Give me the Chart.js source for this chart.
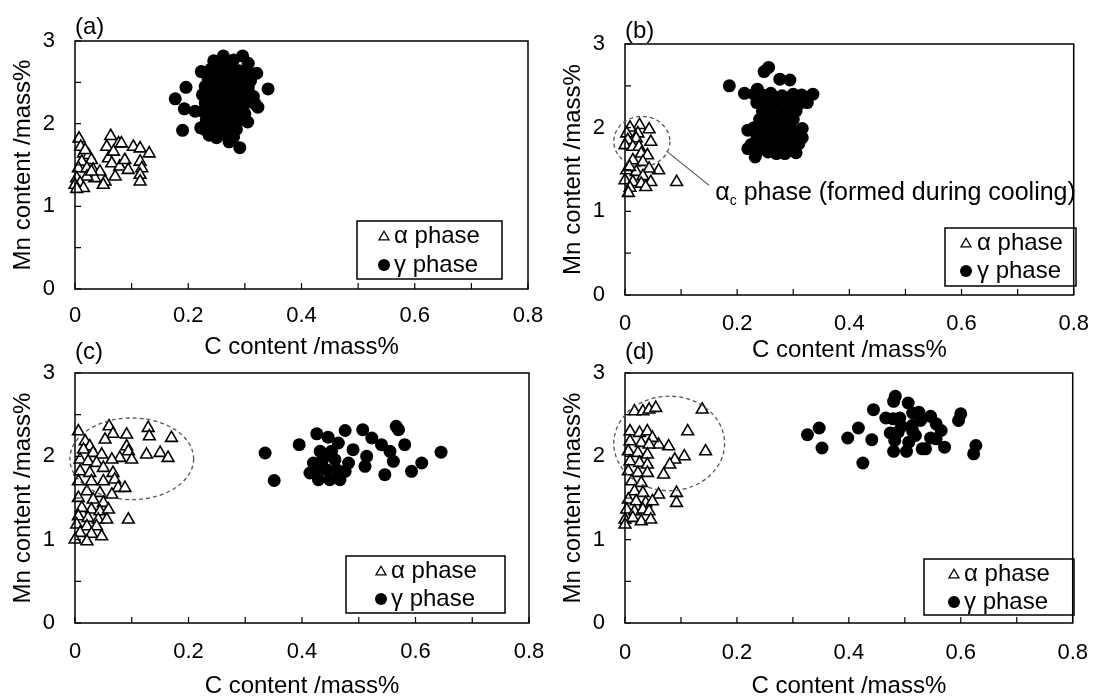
<!DOCTYPE html>
<html>
<head>
<meta charset="utf-8">
<script src="https://cdn.jsdelivr.net/npm/chart.js@4.4.0/dist/chart.umd.min.js"></script>
<style>
  body { margin: 0; background: #fff; }
  #wrap { position: relative; width: 1105px; height: 700px; }
  #wrap canvas { position: absolute; left: 0; top: 0; }
</style>
</head>
<body>
<div id="wrap">
  <canvas id="pa" width="1105" height="700"></canvas>
  <canvas id="pb" width="1105" height="700"></canvas>
  <canvas id="pc" width="1105" height="700"></canvas>
  <canvas id="pd" width="1105" height="700"></canvas>
</div>
<script>
// ---- data: [C mass%, Mn mass%] ----
const seriesLabels = ['α phase', 'γ phase'];
const panelLetters = ['(a)', '(b)', '(c)', '(d)'];
const xTickLabels = ['0', '0.2', '0.4', '0.6', '0.8'];
const yTickLabels = ['0', '1', '2', '3'];
const xTitle = 'C content /mass%';
const yTitle = 'Mn content /mass%';

const alphaA = [
  [0.007,1.82],[0.063,1.85],[0.077,1.76],[0.056,1.72],[0.103,1.72],[0.115,1.70],[0.131,1.64],
  [0.01,1.72],[0.015,1.64],[0.024,1.62],[0.029,1.56],[0.012,1.54],[0.006,1.46],[0.021,1.46],
  [0.032,1.44],[0.044,1.42],[0.059,1.58],[0.065,1.52],[0.079,1.48],[0.088,1.56],[0.094,1.44],
  [0.115,1.54],[0.118,1.46],[0.115,1.38],[0.115,1.30],[0.071,1.36],[0.053,1.30],[0.05,1.26],
  [0.035,1.34],[0.021,1.36],[0.003,1.34],[0.009,1.28],[0.0,1.26],[0.015,1.22],[0.003,1.21],
  [0.029,1.42],[0.082,1.76],[0.068,1.66],[0.018,1.68]
];
const gammaA = [
  [0.177,2.30],[0.193,2.18],[0.212,2.15],[0.196,2.44],[0.19,1.92],[0.223,2.63],[0.262,2.82],
  [0.296,2.82],[0.306,2.73],[0.321,2.61],[0.341,2.42],[0.323,2.20],[0.291,1.71],[0.272,1.78],
  [0.25,1.83],[0.229,1.93],
  [0.245,2.76],[0.265,2.74],[0.28,2.77],
  [0.24,2.66],[0.256,2.64],[0.272,2.67],[0.29,2.64],[0.305,2.62],
  [0.235,2.55],[0.25,2.57],[0.266,2.54],[0.281,2.56],[0.296,2.53],[0.31,2.52],
  [0.23,2.45],[0.246,2.46],[0.261,2.44],[0.276,2.47],[0.291,2.45],[0.306,2.43],
  [0.225,2.35],[0.24,2.36],[0.255,2.33],[0.27,2.36],[0.285,2.34],[0.3,2.37],[0.315,2.33],
  [0.23,2.25],[0.245,2.27],[0.26,2.24],[0.275,2.26],[0.29,2.23],[0.305,2.26],[0.318,2.24],
  [0.225,2.15],[0.24,2.14],[0.255,2.17],[0.27,2.13],[0.285,2.16],[0.3,2.12],
  [0.232,2.05],[0.247,2.03],[0.262,2.06],[0.277,2.04],[0.292,2.05],[0.305,2.02],
  [0.222,1.95],[0.24,1.96],[0.255,1.94],[0.27,1.97],[0.285,1.93],
  [0.237,1.86],[0.252,1.85],[0.266,1.87],[0.28,1.84]
];

const alphaB = [
  [0.026,2.03],[0.009,2.00],[0.043,1.98],[0.003,1.93],[0.023,1.93],[0.02,1.87],[0.046,1.83],
  [0.005,1.85],[0.0,1.79],[0.014,1.77],[0.025,1.77],[0.029,1.69],[0.04,1.67],[0.014,1.61],
  [0.032,1.59],[0.06,1.49],[0.003,1.49],[0.02,1.47],[0.008,1.53],[0.043,1.51],[0.032,1.42],
  [0.0,1.37],[0.014,1.35],[0.029,1.33],[0.046,1.35],[0.009,1.28],[0.037,1.29],[0.006,1.22],
  [0.092,1.35]
];
const gammaB = [
  [0.186,2.50],[0.248,2.67],[0.256,2.72],[0.276,2.58],[0.294,2.57],[0.213,2.41],[0.236,2.46],
  [0.335,2.40],[0.219,1.97],[0.219,1.75],[0.232,1.65],[0.285,1.69],[0.316,1.99],[0.316,1.88],
  [0.23,2.40],[0.245,2.39],[0.26,2.41],[0.28,2.38],[0.30,2.40],[0.315,2.39],
  [0.235,2.30],[0.25,2.31],[0.27,2.29],[0.29,2.31],[0.31,2.28],[0.325,2.30],
  [0.245,2.20],[0.26,2.21],[0.275,2.19],[0.29,2.22],[0.305,2.20],
  [0.24,2.10],[0.255,2.11],[0.27,2.09],[0.285,2.12],[0.30,2.10],
  [0.23,2.00],[0.25,2.01],[0.265,1.99],[0.28,2.02],[0.295,2.00],
  [0.235,1.90],[0.25,1.91],[0.265,1.89],[0.28,1.92],[0.30,1.90],
  [0.225,1.80],[0.245,1.81],[0.26,1.79],[0.275,1.82],[0.29,1.80],[0.31,1.81],
  [0.235,1.70],[0.255,1.71],[0.27,1.69],[0.29,1.72],[0.305,1.70]
];

const alphaC = [
  [0.006,2.30],[0.06,2.36],[0.067,2.27],[0.091,2.26],[0.129,2.34],[0.131,2.24],[0.17,2.22],
  [0.053,2.20],[0.091,2.12],[0.094,2.06],[0.079,1.98],[0.1,1.96],[0.126,2.02],[0.15,2.04],
  [0.164,1.98],[0.065,1.96],[0.018,2.18],[0.026,2.12],[0.015,2.08],[0.032,2.04],[0.047,2.02],
  [0.009,1.96],[0.023,1.94],[0.038,1.92],[0.05,1.86],[0.067,1.80],[0.009,1.82],[0.026,1.80],
  [0.006,1.70],[0.029,1.70],[0.05,1.70],[0.07,1.72],[0.076,1.62],[0.088,1.62],[0.065,1.54],
  [0.044,1.56],[0.021,1.58],[0.006,1.50],[0.032,1.48],[0.05,1.44],[0.012,1.38],[0.029,1.36],
  [0.044,1.34],[0.059,1.36],[0.006,1.28],[0.023,1.26],[0.041,1.24],[0.056,1.24],[0.094,1.24],
  [0.003,1.18],[0.021,1.16],[0.038,1.16],[0.009,1.08],[0.029,1.07],[0.047,1.04],[0.0,1.00],
  [0.021,0.98]
];
const gammaC = [
  [0.335,2.04],[0.351,1.71],[0.395,2.14],[0.426,2.27],[0.446,2.23],[0.476,2.31],[0.507,2.32],
  [0.566,2.36],[0.57,2.32],[0.645,2.05],[0.611,1.92],[0.593,1.82],[0.546,1.78],[0.511,1.88],
  [0.514,2.00],[0.49,2.08],[0.523,2.22],[0.54,2.14],[0.555,2.06],[0.581,2.14],[0.561,1.94],
  [0.464,2.16],[0.432,2.06],[0.42,1.92],[0.414,1.80],[0.429,1.72],[0.443,1.84],[0.458,1.96],
  [0.467,1.72],[0.476,1.82],[0.482,1.92],[0.452,2.06],[0.435,1.94],[0.449,1.72],[0.426,1.84],
  [0.461,1.84],[0.44,2.00]
];

const alphaD = [
  [0.017,2.54],[0.032,2.54],[0.043,2.56],[0.055,2.58],[0.138,2.56],[0.112,2.30],[0.144,2.06],
  [0.106,2.00],[0.089,1.96],[0.08,1.90],[0.069,1.78],[0.078,2.12],[0.06,2.14],[0.009,2.30],
  [0.026,2.28],[0.04,2.30],[0.049,2.22],[0.009,2.18],[0.029,2.16],[0.043,2.14],[0.006,2.06],
  [0.023,2.04],[0.04,2.02],[0.009,1.94],[0.026,1.92],[0.04,1.90],[0.006,1.82],[0.023,1.80],
  [0.04,1.80],[0.012,1.70],[0.029,1.68],[0.017,1.58],[0.032,1.56],[0.06,1.54],[0.092,1.56],
  [0.092,1.44],[0.006,1.48],[0.02,1.46],[0.037,1.44],[0.049,1.46],[0.003,1.36],[0.017,1.34],
  [0.032,1.36],[0.043,1.34],[0.0,1.24],[0.014,1.26],[0.029,1.22],[0.046,1.24],[0.0,1.18]
];
const gammaD = [
  [0.326,2.26],[0.347,2.34],[0.352,2.10],[0.398,2.22],[0.417,2.34],[0.441,2.20],[0.425,1.92],
  [0.444,2.56],[0.483,2.72],[0.48,2.66],[0.466,2.46],[0.474,2.28],[0.48,2.06],[0.503,2.06],
  [0.531,2.09],[0.506,2.64],[0.514,2.52],[0.491,2.46],[0.514,2.30],[0.494,2.36],[0.546,2.48],
  [0.546,2.22],[0.525,2.53],[0.556,2.39],[0.60,2.51],[0.596,2.43],[0.565,2.31],[0.556,2.21],
  [0.571,2.11],[0.627,2.13],[0.623,2.03],[0.507,2.17],[0.479,2.45],[0.488,2.29],[0.513,2.37],
  [0.519,2.25],[0.528,2.43],[0.482,2.19],[0.537,2.09]
];

// dashed rings around the alpha formed on cooling: [cx, cy, rx, ry] in data units
const ringB = [0.03, 1.835, 0.05, 0.30];
const ringC = [0.10, 1.97, 0.109, 0.49];
const ringD = [0.079, 2.155, 0.099, 0.567];
const calloutB = { from: [0.074, 1.72], to: [0.15, 1.31], at: [0.161, 1.22], text: ['α', 'c', ' phase (formed during cooling)'] };

// ---- page layout (px) ----
const FONT = '"Liberation Sans", Arial, sans-serif';
const panels = [
  { id: 'pa', frame: [75, 41, 528, 289], titleOff: 58, tickPad: 14, letterY: 27,
    alpha: alphaA, gamma: gammaA,
    legend: { box: [357, 221, 502, 279], rows: [236, 265], markX: 384, textX: 394 } },
  { id: 'pb', frame: [625, 44, 1088, 295], titleOff: 55, tickPad: 16, letterY: 31,
    alpha: alphaB, gamma: gammaB, ring: ringB, callout: calloutB,
    legend: { box: [945, 228, 1076, 286], rows: [243, 271], markX: 966, textX: 977 } },
  { id: 'pc', frame: [75, 373, 529, 623], titleOff: 63, tickPad: 16, letterY: 352,
    alpha: alphaC, gamma: gammaC, ring: ringC,
    legend: { box: [346, 556, 505, 613], rows: [571, 599], markX: 381, textX: 391 } },
  { id: 'pd', frame: [625, 373, 1089, 623], titleOff: 63, tickPad: 17, letterY: 352,
    alpha: alphaD, gamma: gammaD, ring: ringD,
    legend: { box: [924, 559, 1074, 615], rows: [574, 602], markX: 954, textX: 964 } }
];

const toPoints = (arr) => arr.map(([x, y]) => ({ x, y }));

const fmt = (v, step) => {
  const r = Math.round(v / step) * step;
  return r === 0 ? '0' : (step < 1 ? r.toFixed(1) : String(r));
};

function drawTri(ctx, x, y, r) {
  ctx.beginPath();
  ctx.moveTo(x, y - r);
  ctx.lineTo(x + r * 0.866, y + r * 0.5);
  ctx.lineTo(x - r * 0.866, y + r * 0.5);
  ctx.closePath();
  ctx.fillStyle = '#fff';
  ctx.fill();
  ctx.stroke();
}

// frame, inward ticks, ring, callout, legend and panel letter
const panelDecor = {
  id: 'panelDecor',
  afterDatasetsDraw(chart, args, opts) {
    const { ctx, chartArea: a, scales: { x, y } } = chart;
    ctx.save();
    ctx.strokeStyle = '#000';
    ctx.lineWidth = 1.5;
    ctx.strokeRect(a.left, a.top, a.right - a.left, a.bottom - a.top);

    ctx.lineWidth = 1.2;
    ctx.beginPath();
    x.ticks.forEach(t => {
      const px = x.getPixelForValue(t.value);
      ctx.moveTo(px, a.bottom); ctx.lineTo(px, a.bottom - 6);
    });
    y.ticks.forEach(t => {
      const py = y.getPixelForValue(t.value);
      ctx.moveTo(a.left, py); ctx.lineTo(a.left + 6, py);
    });
    ctx.stroke();

    if (opts.ring) {
      const [cx, cy, rx, ry] = opts.ring;
      const px = x.getPixelForValue(cx), py = y.getPixelForValue(cy);
      const w = x.getPixelForValue(cx + rx) - px, h = py - y.getPixelForValue(cy + ry);
      ctx.setLineDash([4, 3]);
      ctx.strokeStyle = '#555';
      ctx.lineWidth = 1.3;
      ctx.beginPath();
      ctx.ellipse(px, py, w, h, 0, 0, Math.PI * 2);
      ctx.stroke();
      ctx.setLineDash([]);
    }

    if (opts.callout) {
      const c = opts.callout;
      ctx.strokeStyle = '#555';
      ctx.lineWidth = 1.2;
      ctx.beginPath();
      ctx.moveTo(x.getPixelForValue(c.from[0]), y.getPixelForValue(c.from[1]));
      ctx.lineTo(x.getPixelForValue(c.to[0]), y.getPixelForValue(c.to[1]));
      ctx.stroke();
      let tx = x.getPixelForValue(c.at[0]);
      const ty = y.getPixelForValue(c.at[1]);
      ctx.fillStyle = '#000';
      ctx.textBaseline = 'middle';
      ctx.font = '25px ' + FONT;
      ctx.fillText(c.text[0], tx, ty);
      tx += ctx.measureText(c.text[0]).width;
      ctx.font = '14px ' + FONT;
      ctx.fillText(c.text[1], tx, ty + 8);
      tx += ctx.measureText(c.text[1]).width;
      ctx.font = '25px ' + FONT;
      ctx.fillText(c.text[2], tx, ty);
    }

    const lg = opts.legend;
    if (lg) {
      const [l, t, r, b] = lg.box;
      ctx.strokeStyle = '#000';
      ctx.lineWidth = 1.5;
      ctx.strokeRect(l, t, r - l, b - t);
      ctx.font = '24px ' + FONT;
      ctx.textBaseline = 'middle';
      chart.data.datasets.forEach((ds, i) => {
        const ry = lg.rows[i];
        ctx.lineWidth = 1.3;
        ctx.strokeStyle = '#000';
        if (ds.pointStyle === 'triangle') {
          drawTri(ctx, lg.markX, ry + 1, 5.8);
        } else {
          ctx.fillStyle = '#000';
          ctx.beginPath();
          ctx.arc(lg.markX, ry, 6, 0, Math.PI * 2);
          ctx.fill();
        }
        ctx.fillStyle = '#000';
        ctx.fillText(ds.label, lg.textX, ry);
      });
    }

    ctx.font = '24px ' + FONT;
    ctx.fillStyle = '#000';
    ctx.textBaseline = 'middle';
    ctx.fillText(opts.letter, a.left, opts.letterY);
    ctx.restore();
  }
};

panels.forEach((p, i) => {
  const [fl, ft, fr, fb] = p.frame;
  const yAxisW = 70;
  const xAxisH = p.titleOff + 12;
  new Chart(document.getElementById(p.id), {
    type: 'scatter',
    data: {
      datasets: [
        { label: seriesLabels[0], data: toPoints(p.alpha), pointStyle: 'triangle',
          pointRadius: 6.8, pointBackgroundColor: '#fff', pointBorderColor: '#000',
          pointBorderWidth: 1.6, clip: false },
        { label: seriesLabels[1], data: toPoints(p.gamma), pointStyle: 'circle',
          pointRadius: 6.5, pointBackgroundColor: '#000', pointBorderColor: '#000',
          pointBorderWidth: 0, clip: false }
      ]
    },
    options: {
      responsive: false,
      animation: false,
      events: [],
      layout: { padding: { left: fl - yAxisW, top: ft, right: 1105 - fr, bottom: 700 - fb - xAxisH } },
      plugins: {
        legend: { display: false },
        tooltip: { enabled: false },
        panelDecor: { ring: p.ring, callout: p.callout, legend: p.legend, letter: panelLetters[i], letterY: p.letterY }
      },
      scales: {
        x: {
          type: 'linear', min: 0, max: 0.8,
          grid: { display: false, drawTicks: false },
          border: { display: false },
          ticks: {
            stepSize: 0.1, autoSkip: false, maxRotation: 0, padding: p.tickPad,
            color: '#000', font: { family: FONT, size: 22 },
            callback: (v) => { const s = fmt(v, 0.1); return xTickLabels.includes(s) ? s : ''; }
          },
          title: { display: true, text: xTitle, color: '#000', font: { family: FONT, size: 24, lineHeight: 1 }, padding: 0 },
          afterFit: (s) => { s.height = xAxisH; }
        },
        y: {
          type: 'linear', min: 0, max: 3,
          grid: { display: false, drawTicks: false },
          border: { display: false },
          ticks: {
            stepSize: 0.5, autoSkip: false, padding: 20,
            color: '#000', font: { family: FONT, size: 22 },
            callback: (v) => { const s = fmt(v, 1); return (Math.abs(v - Math.round(v)) < 1e-6 && yTickLabels.includes(s)) ? s : ''; }
          },
          title: { display: true, text: yTitle, color: '#000', font: { family: FONT, size: 24, lineHeight: 1 }, padding: { top: 6, bottom: 0 } },
          afterFit: (s) => { s.width = yAxisW; }
        }
      }
    },
    plugins: [panelDecor]
  });
});
</script>
</body>
</html>
